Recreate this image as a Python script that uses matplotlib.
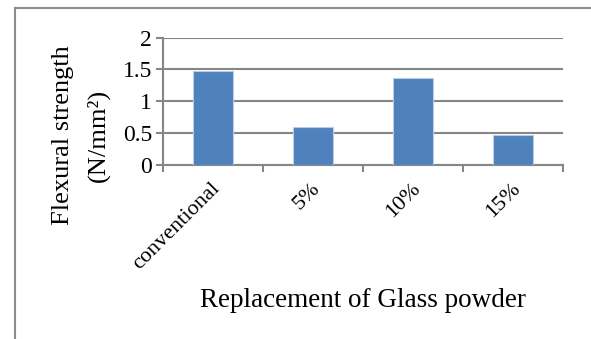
import matplotlib.pyplot as plt
from matplotlib.lines import Line2D

categories = ['conventional', '5%', '10%', '15%']
strength = [1.48, 0.60, 1.36, 0.47]
yticks = [0, 0.5, 1, 1.5, 2]
ytick_labels = ['0', '0.5', '1', '1.5', '2']

plt.rcParams['font.family'] = ['Liberation Serif', 'DejaVu Serif']

fig = plt.figure(figsize=(5.91, 3.39), dpi=100)
ax = fig.add_axes([0.276, 0.513, 0.677, 0.376])

x = list(range(len(categories)))
ax.bar(x, strength, width=0.4, color='#4F81BD', edgecolor='#B9CDE5',
       linewidth=0.8, zorder=3)

ax.set_xlim(-0.5, len(categories) - 0.5)
ax.set_ylim(0, 2)
ax.set_yticks(yticks)
ax.set_yticklabels(ytick_labels, fontsize=17)
ax.set_xticks([i - 0.5 for i in range(len(categories) + 1)])
ax.set_xticklabels([])
ax.grid(axis='y', color='#868686', linewidth=1.5, zorder=0)
ax.tick_params(axis='y', length=5, width=1.5, color='#868686', pad=3)
ax.tick_params(axis='x', length=5, width=1.5, color='#868686')

for s in ['top', 'right']:
    ax.spines[s].set_visible(False)
for s in ['left', 'bottom']:
    ax.spines[s].set_color('#868686')
    ax.spines[s].set_linewidth(1.5)

for i, lab in enumerate(categories):
    ax.annotate(lab, xy=(i, 0), xycoords=('data', 'axes fraction'),
                xytext=(3, -15), textcoords='offset points',
                rotation=45, ha='right', va='center', fontsize=16,
                rotation_mode='anchor')

fig.text(0.106, 0.6, 'Flexural strength', rotation=90, fontsize=19,
         ha='center', va='center')
fig.text(0.166, 0.6, '(N/mm²)', rotation=90, fontsize=19,
         ha='center', va='center')
fig.text(0.614, 0.115, 'Replacement of Glass powder', fontsize=19.5,
         ha='center', va='center')

# outer frame lines (top and left only)
fig.add_artist(Line2D([15 / 591, 1.0], [1 - 8 / 339, 1 - 8 / 339],
                      color='#8c8c8c', linewidth=1.5))
fig.add_artist(Line2D([15 / 591, 15 / 591], [0, 1 - 8 / 339],
                      color='#8c8c8c', linewidth=1.5))

fig.savefig('out.png', dpi=100)
